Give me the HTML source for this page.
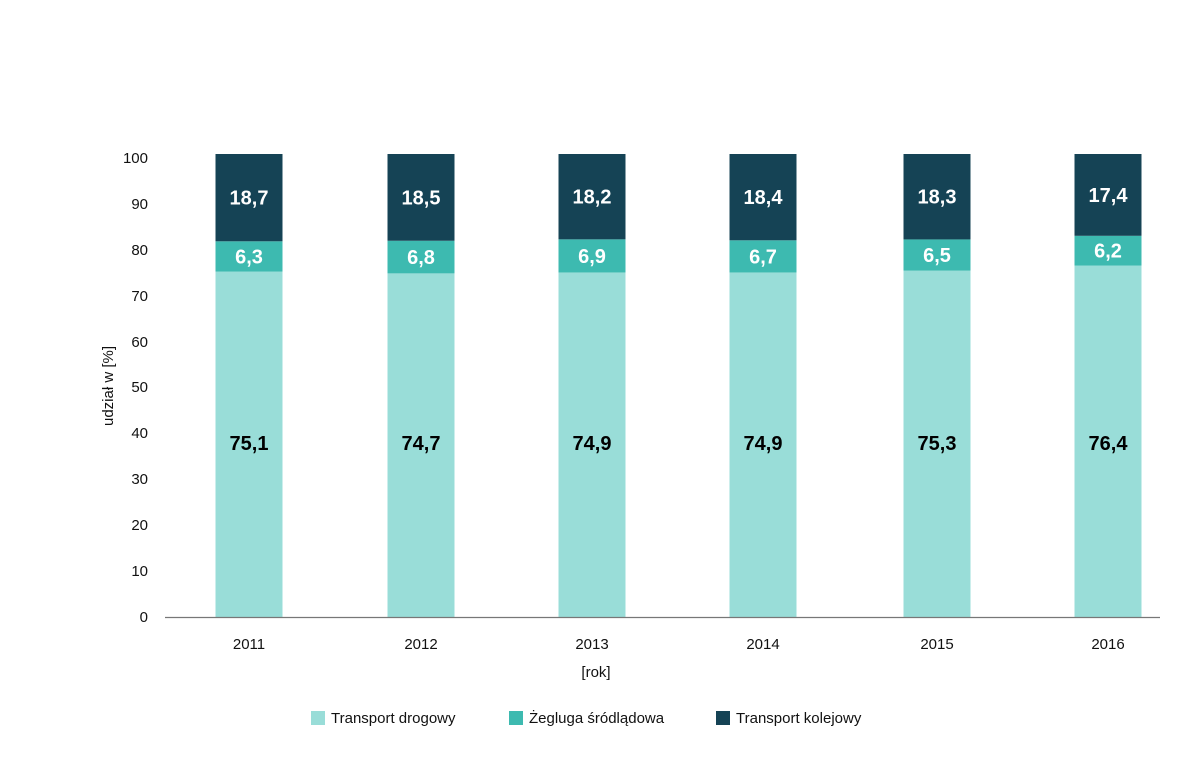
<!DOCTYPE html>
<html><head><meta charset="utf-8"><style>body{margin:0;background:#fff}svg{display:block;font-family:"Liberation Sans",Arial,sans-serif}</style></head><body>
<svg width="1200" height="767" viewBox="0 0 1200 767">
<g font-size="15" fill="#111" text-anchor="end">
<text x="148" y="622">0</text><text x="148" y="576">10</text><text x="148" y="530">20</text><text x="148" y="484">30</text><text x="148" y="438">40</text><text x="148" y="392">50</text><text x="148" y="347">60</text><text x="148" y="301">70</text><text x="148" y="255">80</text><text x="148" y="209">90</text><text x="148" y="163">100</text>
</g>
<text transform="translate(113,386) rotate(-90)" font-size="15" text-anchor="middle" fill="#111">udział w [%]</text>
<g id="bars"></g>
<line x1="165" y1="617.5" x2="1160" y2="617.5" stroke="#777" stroke-width="1.2"/>
<g font-size="15" fill="#111" text-anchor="middle">
<text x="249" y="649">2011</text><text x="421" y="649">2012</text><text x="592" y="649">2013</text><text x="763" y="649">2014</text><text x="937" y="649">2015</text><text x="1108" y="649">2016</text>
<text x="596" y="677">[rok]</text>
</g>
<g font-size="15" fill="#111">
<rect x="311" y="711" width="14" height="14" fill="#99ddd8"/><text x="331" y="723">Transport drogowy</text>
<rect x="509" y="711" width="14" height="14" fill="#3dbab0"/><text x="529" y="723">Żegluga śródlądowa</text>
<rect x="716" y="711" width="14" height="14" fill="#154355"/><text x="736" y="723">Transport kolejowy</text>
</g>
</svg>
<script>
var d=[[249,75.1,6.3,18.7],[421,74.7,6.8,18.5],[592,74.9,6.9,18.2],[763,74.9,6.7,18.4],[937,75.3,6.5,18.3],[1108,76.4,6.2,17.4]];
var s=4.6,b=617,h='';
d.forEach(function(r){var x=r[0]-33.5,w=67;var y1=b-r[1]*s,y2=y1-r[2]*4.8,top=154;
h+='<rect x="'+x+'" y="'+y1+'" width="'+w+'" height="'+(b-y1)+'" fill="#99ddd8"/>';
h+='<rect x="'+x+'" y="'+y2+'" width="'+w+'" height="'+(y1-y2)+'" fill="#3dbab0"/>';
h+='<rect x="'+x+'" y="'+top+'" width="'+w+'" height="'+(y2-top)+'" fill="#154355"/>';
var f=function(v){return String(v).replace('.',',')};
h+='<text x="'+r[0]+'" y="450" font-size="20" font-weight="bold" text-anchor="middle" fill="#000">'+f(r[1])+'</text>';
h+='<text x="'+r[0]+'" y="'+((y1+y2)/2+7)+'" font-size="20" font-weight="bold" text-anchor="middle" fill="#fff">'+f(r[2])+'</text>';
h+='<text x="'+r[0]+'" y="'+((y2+top)/2+7)+'" font-size="20" font-weight="bold" text-anchor="middle" fill="#fff">'+f(r[3])+'</text>';});
document.getElementById('bars').innerHTML=h;
</script>
</body></html>
